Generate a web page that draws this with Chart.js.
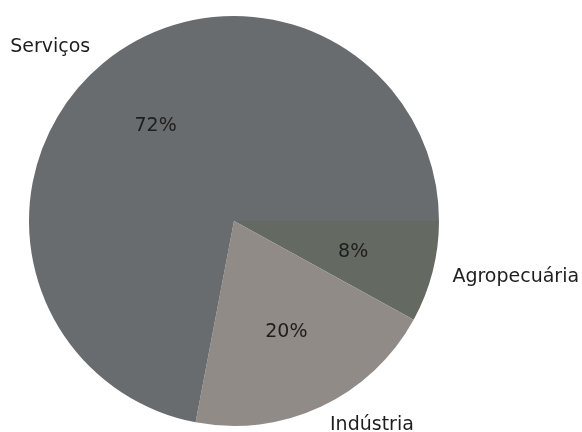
<!DOCTYPE html>
<html>
<head>
<meta charset="utf-8">
<script src="https://cdn.jsdelivr.net/npm/chart.js@4/dist/chart.umd.min.js"></script>
<style>
  html, body { margin: 0; padding: 0; background: #fff; }
  canvas { display: block; }
</style>
</head>
<body>
<canvas id="chPie" width="582" height="432"></canvas>
<script>
var categories = ['Agropecuária', 'Indústria', 'Serviços'];
var shares = [8, 20, 72];
var sliceColors = ['#646a62', '#918b88', '#686c6f'];

// draws outer names (1.1 r) and percents (0.6 r), like matplotlib autopct
var pieLabels = {
    id: 'pieLabels',
    afterDatasetsDraw: function (chart) {
        var ctx = chart.ctx;
        var total = shares.reduce(function (a, b) { return a + b; }, 0);
        chart.getDatasetMeta(0).data.forEach(function (arc, i) {
            var mid = (arc.startAngle + arc.endAngle) / 2;
            var r = arc.outerRadius;
            var cx = Math.cos(mid), cy = Math.sin(mid);
            ctx.save();
            ctx.font = '19px "DejaVu Sans"';
            ctx.fillStyle = '#1e1e1e';
            ctx.textBaseline = 'middle';
            ctx.textAlign = 'center';
            var pct = Math.round(shares[i] / total * 100) + '%';
            ctx.fillText(pct, arc.x + cx * r * 0.6, arc.y + cy * r * 0.6);
            ctx.textAlign = cx >= 0 ? 'left' : 'right';
            ctx.fillText(categories[i], arc.x + cx * r * 1.1, arc.y + cy * r * 1.1);
            ctx.restore();
        });
    }
};

var pieChart = new Chart(document.getElementById('chPie').getContext('2d'), {
    type: 'pie',
    data: {
        labels: categories,
        datasets: [{
            data: shares,
            backgroundColor: sliceColors,
            borderWidth: 0
        }]
    },
    options: {
        responsive: false,
        animation: false,
        rotation: 90,
        layout: { padding: { left: 29, right: 143, top: 16, bottom: 6 } },
        plugins: {
            legend: { display: false },
            tooltip: { enabled: false }
        }
    },
    plugins: [pieLabels]
});
</script>
</body>
</html>
